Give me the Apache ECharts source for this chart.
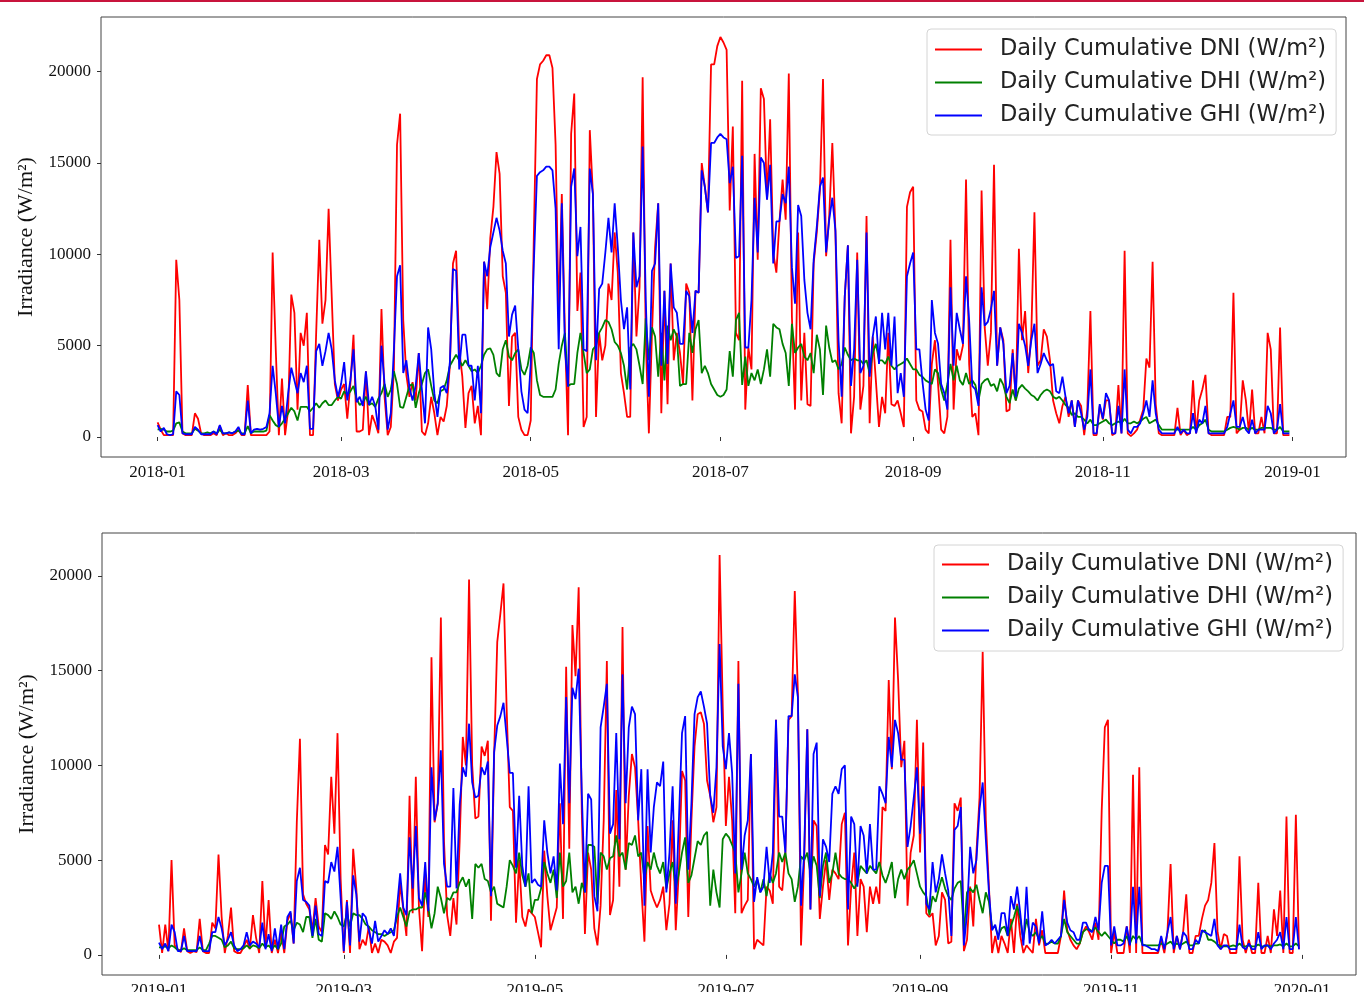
<!DOCTYPE html>
<html>
<head>
<meta charset="utf-8">
<title>Daily Cumulative Irradiance 2018–2019</title>
<script src="https://cdn.jsdelivr.net/npm/echarts@6/dist/echarts.min.js"></script>
<style>
  html, body { margin: 0; padding: 0; background: #ffffff; overflow: hidden; }
  #chart { width: 1364px; height: 992px; }
</style>
</head>
<body>
<div id="chart"></div>
<script>
// Series names (legend entries)
const NAMES = ['Daily Cumulative DNI (W/m²)', 'Daily Cumulative DHI (W/m²)', 'Daily Cumulative GHI (W/m²)'];

// Daily values, one per day starting on 1 January of each year (W/m²)
const DNI_2018 = [
  800,400,100,100,100,100,9700,7500,200,100,100,100,1300,1000,200,100,100,100,200,100,
  600,100,200,100,100,200,400,100,100,2850,100,100,100,100,100,100,300,10100,4800,100,
  3200,100,1500,7800,6800,1500,5700,5000,6800,100,100,5700,10800,6200,7500,12500,7700,2900,2000,2600,
  2900,1000,2900,5600,300,300,400,3600,100,1200,750,200,7000,2200,100,550,3700,16000,17700,6400,
  3400,2200,3000,2000,4600,300,100,750,2200,1300,100,1100,850,1700,3900,9500,10200,4800,3300,500,
  2400,2800,750,1700,100,9600,7000,10900,12600,15600,14400,8800,7900,1700,5500,5700,1100,400,100,100,
  900,11000,19600,20400,20600,20900,20900,20200,16000,6500,13300,5700,100,16600,18800,6900,9000,550,1100,16800,
  13300,1100,5700,4200,5000,8400,7500,11200,9000,3500,2400,1100,1100,11200,5500,8200,19700,5300,200,5700,
  10400,12800,1300,8000,1800,9500,4200,5700,4600,2900,8400,7900,2000,8000,7900,15000,13700,12300,20400,20400,
  21400,21900,21600,21200,12400,17000,5700,5300,19500,1500,4900,3700,15500,9700,19100,18500,13000,17400,10100,9000,
  11800,14100,11900,19900,6600,1500,11200,2000,5700,1800,1700,9500,11200,13500,19600,9900,12100,16100,11200,2400,
  750,7700,10500,200,2200,10100,1500,2800,12100,750,5500,3100,550,2200,1300,5700,1800,1700,2000,1300,
  550,12600,13400,13700,2000,1500,1400,400,200,4000,5300,2900,400,200,1100,10800,1500,4800,4200,5000,
  14100,4000,1100,1300,100,13500,6000,3900,5700,14900,3900,6000,5300,1400,1500,4800,2000,10300,5300,6900,
  3500,5700,12300,3900,4200,5900,5500,4200,2000,1300,750,1700,2200,1100,2000,550,2000,1700,100,1500,
  6900,100,100,1700,950,2000,2000,100,200,2850,200,10200,200,50,200,400,950,1500,4300,3800,
  9600,1800,200,100,100,100,100,100,1600,100,400,100,200,3100,200,2000,2600,3400,200,100,
  100,100,100,100,1100,1100,7900,200,400,3100,2000,200,2600,200,200,1100,200,5700,4800,200,
  200,6000,100,100,100
];
const DHI_2018 = [
  400,450,400,300,300,350,750,800,300,200,200,200,450,350,200,200,250,200,300,200,
  400,200,200,250,200,300,350,200,200,600,200,300,300,300,300,350,1200,900,650,550,
  750,1000,1300,1600,1400,900,1650,1650,1650,1400,1600,1850,1600,1850,2000,1750,1750,2000,2200,2100,
  2500,2300,2500,2800,2100,1750,1900,2200,1750,1850,1650,2100,2400,2900,2200,2600,3600,2900,1650,1600,
  2200,2800,2900,1600,2400,2900,3500,3700,2800,2000,1850,2500,2600,3100,3900,4200,4500,4200,3900,4200,
  3900,3600,3700,3500,3900,4500,4800,4850,4500,3500,3300,4800,5300,4400,4200,4600,4800,3700,3400,3900,
  4900,4600,3100,2300,2200,2200,2200,2200,2600,4000,5000,5700,2800,2900,2900,4600,5700,4600,3500,3700,
  4800,5000,5700,6000,6400,6300,5900,5200,5000,4600,3900,2600,4900,5100,4800,3900,2900,6500,4200,6000,
  5500,3300,5700,3100,6100,5300,5900,5500,2800,2900,2900,5700,4600,5900,6400,3500,3900,3500,2900,2600,
  2300,2200,2300,2600,4700,3300,6400,6800,2850,4400,2800,3500,3100,3700,2900,3700,4800,3300,6200,6000,
  5900,5100,4600,2800,6200,4600,4900,5100,4400,4200,4600,3500,5600,4800,2300,6100,4900,4100,4200,3700,
  4000,4900,4500,4200,4300,4200,4200,4000,4200,3500,4600,5100,4200,4200,4000,4400,3900,3700,3900,4000,
  4100,4300,4000,3700,3700,3400,3300,3100,3000,2900,3700,3500,2600,2000,2900,4000,3100,3900,3100,2850,
  3500,2900,3100,2850,2000,2900,3100,3200,2800,2900,2500,3200,2850,2200,1850,2600,2000,2650,2850,2650,
  2500,2300,2200,2000,2300,2500,2600,2500,2200,2100,2200,2000,1750,1600,1200,1300,1100,1100,950,750,
  950,650,650,750,850,950,750,650,750,850,750,1000,750,750,850,750,850,1000,1100,750,
  850,950,650,400,400,400,400,400,400,400,400,400,400,550,400,650,750,950,400,300,
  300,300,300,300,400,500,550,500,400,500,500,400,500,400,400,500,500,500,500,400,
  400,550,300,300,300
];
const GHI_2018 = [
  650,300,500,150,100,150,2500,2300,200,150,150,150,550,400,150,150,150,150,300,150,
  650,200,200,250,200,300,550,150,150,2000,200,400,450,400,450,550,1300,3900,2400,550,
  1700,750,2400,3800,3100,2400,3500,3000,3900,450,450,4700,5100,3900,4700,5700,4800,3100,2200,2900,
  4100,2000,3100,4800,1900,2200,1700,3600,1750,2200,1700,400,5000,2900,400,1300,4800,8800,9400,3500,
  4200,2700,2000,2800,4600,2600,750,6000,4800,2400,1100,2700,2800,2400,4100,9200,9100,3700,5600,5600,
  3900,3900,2000,3900,1300,9600,8800,10400,11200,12000,11300,10200,9500,5500,6700,7200,4800,2500,1500,1300,
  4000,9500,14300,14500,14600,14800,14800,14600,12500,4800,12800,4800,2750,13700,14700,9900,11500,4800,4700,14700,
  13300,4200,8100,8400,10100,12000,10100,12800,10400,7500,5900,7100,2600,11200,8200,8800,15900,7500,2200,9100,
  9500,12800,3900,8000,4000,9500,7100,6800,5100,5100,8000,7700,5700,8000,7900,14600,13700,12300,16100,16100,
  16400,16600,16400,16300,13900,14800,9800,9900,15400,4900,4900,7500,13100,10100,15300,15000,13000,14900,9500,11800,
  11800,13300,12800,14800,9300,7300,12700,12100,8600,6800,5900,9700,11500,13700,14200,10100,11900,13100,11300,5300,
  2200,7700,10500,2800,4800,9700,3500,3900,11200,3300,5500,6600,4000,6800,4800,6800,3900,6600,2400,3500,
  2200,8800,9500,10100,4800,4800,3000,1500,900,7500,5700,5100,2900,2400,1500,8200,3900,6800,5900,5100,
  8800,6400,2800,2600,1700,8200,6100,6300,7000,8000,3900,6000,5100,2400,2800,4600,2200,6200,5700,5000,
  3900,5300,6200,3500,4000,4600,4200,3900,4000,2500,2400,3300,2200,1300,2000,550,2000,1300,400,1100,
  3700,200,200,1800,1000,2400,2000,200,200,1700,200,3700,400,200,550,550,750,1300,2000,1100,
  3100,1300,400,200,200,200,200,200,550,200,400,200,200,1300,200,950,750,1700,200,200,
  200,200,200,200,550,1300,2000,550,550,1100,400,200,950,200,400,400,400,1700,1300,200,
  400,1800,200,200,200
];

const DNI_2019 = [
  1600,100,1600,200,5000,500,300,150,1400,200,100,200,150,1900,200,100,100,1700,1400,5300,
  2000,100,1000,2500,200,100,100,400,800,300,2100,900,100,3900,400,2900,100,800,100,1200,
  100,1800,2200,600,7000,11400,3200,2700,2400,1300,3000,1500,1200,5800,5300,9400,6400,11700,4000,100,
  2900,100,5600,3500,300,800,500,1500,100,600,100,800,700,500,100,700,900,3800,2400,1000,
  8400,2200,9400,2500,200,4200,2000,15700,7000,8000,17800,6000,2100,1000,3000,1600,6000,11500,10000,19800,
  10000,7200,7300,11000,10500,11300,1800,10500,16500,18000,19600,13000,7800,7600,1700,5000,2000,1500,2400,2200,
  2000,1200,400,5500,3100,1300,1900,2500,8000,1900,15200,5600,17400,14700,19400,7500,1100,5400,4500,1400,
  500,2600,7100,15500,2100,2900,8700,3600,17300,4500,8400,10600,9900,7100,3600,700,6800,3400,2900,2500,
  2900,3600,1300,2700,7100,1300,4500,9700,9200,2000,7100,11000,12700,12800,12200,9200,8400,7000,7800,21100,
  13100,6800,9400,7100,2200,15500,2200,2600,2900,10600,300,800,650,500,3600,3400,2700,12400,3600,3400,
  5400,12400,12600,19200,13800,500,4900,11900,2400,7100,6800,1900,3600,5000,2900,4500,4300,4000,6900,7500,
  500,3600,5400,1000,4000,3600,1200,3600,2700,3600,2700,7800,7600,14500,9800,17800,14500,9900,11300,2600,
  5400,6300,12400,5400,11200,2200,2000,2200,500,1000,3300,2900,600,700,8000,7600,8300,200,800,3600,
  1500,5400,8300,16000,7100,3600,100,1000,100,1000,600,100,1900,100,2700,1000,100,500,300,100,
  1900,500,1300,100,100,100,100,100,1000,3400,1300,800,500,300,600,1200,1500,1200,800,1700,
  800,7600,12000,12400,100,1200,100,100,100,1500,100,9500,100,9900,100,100,100,100,100,100,
  800,100,1200,4800,100,1000,300,1200,3200,100,100,1000,1000,1900,2600,2900,3800,5900,1200,300,
  1100,1000,100,100,100,5200,800,100,800,100,100,3800,100,100,1000,100,2400,1000,3400,100,
  7300,100,100,7400,300
];
const DHI_2019 = [
  400,400,450,350,500,400,250,250,350,250,250,250,250,400,250,250,600,1000,1000,900,
  800,400,500,700,350,300,300,350,500,350,500,450,350,600,400,500,300,500,300,600,
  1500,1600,1800,1300,1700,1600,1200,2000,2000,900,1900,800,700,2200,2100,1900,2300,2000,1600,1500,
  2200,1500,2200,2100,2100,1900,1600,1500,1300,1200,1100,1100,1000,1100,1200,1300,2000,2500,2000,1500,
  2300,2400,2400,2500,2500,3300,2500,1400,2200,3600,3000,2200,3000,2900,3300,3300,3800,4100,3600,4000,
  1900,4800,4600,4800,4000,3900,3300,3600,2700,2600,2500,3600,5000,4700,4300,5400,4200,3600,4300,2200,
  2900,2900,3500,4900,4300,3800,4500,3000,5400,3600,3900,5400,3300,3600,2700,3800,3300,5800,5800,5700,
  2700,5400,5200,4500,5100,5200,6300,5200,5400,4500,5900,5800,6300,5200,5400,4000,4900,4500,5400,4700,
  4300,4900,3500,4300,4900,3500,4300,5400,6200,3800,4200,5100,6000,5800,6300,6500,2600,4500,3300,2500,
  6100,6400,6200,5800,5400,3300,4300,5400,4300,4000,3600,4000,3300,4000,3100,4300,3800,4300,5400,4900,
  5400,4300,4000,2800,3600,5200,5000,5400,4300,5200,4700,3000,4700,5400,3800,4300,5400,4300,4100,4000,
  4000,3800,3500,3800,4700,4500,4300,4700,4500,4300,4900,4200,3800,4300,4900,3000,4000,4500,4000,4500,
  4700,5000,4300,3600,3300,3100,2100,3100,2800,3500,4100,3500,3100,2900,3500,3800,3900,1200,3300,3500,
  3300,3700,2900,2200,3300,2800,1400,1500,1000,1400,1500,1000,1500,2000,2600,1900,800,1900,1200,1000,
  1200,800,1000,600,600,700,600,600,1000,1900,1200,1000,800,600,600,1200,1350,1350,1250,1450,
  1200,1000,1200,1000,800,600,800,800,700,1000,600,1000,800,1000,550,500,500,500,500,500,
  600,500,600,700,500,600,500,600,700,500,500,600,600,1200,1300,800,800,700,550,450,
  450,450,450,500,450,600,450,450,500,450,450,550,450,450,500,450,500,500,550,450,
  600,450,450,600,450
];
const GHI_2019 = [
  650,300,600,200,1600,1200,200,200,1000,200,200,200,200,1000,200,200,200,1200,1200,2000,
  1400,500,800,1200,500,200,300,500,1200,500,700,600,400,1700,300,1100,200,1400,300,1600,
  300,2000,2300,600,3900,4600,2900,2800,2600,1000,2600,1100,1000,3900,3800,4900,4400,5700,3000,200,
  2800,500,4200,3200,700,2200,2000,1300,600,1800,700,1000,1300,1100,1400,1000,2500,4300,2500,2100,
  6200,3500,6800,3000,2600,4900,2300,9900,7100,8000,10800,4800,3600,3600,8800,3500,7900,9900,9400,12200,
  9100,8300,8400,9900,9500,10200,3100,10700,12100,12600,13300,11500,9600,9600,4600,8400,4700,3600,8900,3800,
  4000,3700,3600,7100,5400,4300,5200,3400,10100,6900,13600,8000,14100,13500,15100,8500,3300,8500,8200,3100,
  2300,12000,13100,14300,6400,6900,11700,6100,14800,8000,12000,13100,12700,7100,9800,2600,9800,5400,7800,9100,
  8900,10200,3300,5400,8900,2700,7100,11700,12600,4500,8000,12700,13600,13900,13100,12200,8400,7500,9900,16400,
  11000,9800,11700,9600,4300,14300,4500,6300,7100,10600,2800,4100,3300,3600,5700,3800,5400,12400,7300,7300,
  5400,12600,12600,14800,13600,2600,5400,11900,2400,10600,11200,3100,6100,5700,4900,8500,8900,8500,9800,10000,
  2400,7300,6900,3600,6800,6300,4300,6900,4500,4500,8900,8500,8000,11500,9900,12400,11700,10300,10300,5700,
  6800,8300,9900,6400,8900,2700,2400,4900,3300,4000,5300,4300,3400,1000,6600,6800,7800,500,2200,5700,
  4300,5000,7700,9100,6100,3300,1300,1600,800,2200,2200,1000,3100,2400,3600,2200,500,3600,600,1700,
  1500,600,2300,500,600,800,600,800,1000,2900,1700,1300,1200,800,800,1700,1700,1300,1200,2000,
  1300,3800,4700,4700,500,1500,500,500,600,1500,500,3600,600,3600,500,500,400,300,300,200,
  1000,300,1200,2000,300,1000,300,1200,1000,300,300,800,600,1300,1200,1100,1000,1900,500,300,
  500,500,300,300,300,1600,400,300,600,300,300,1200,300,500,500,300,600,800,1200,300,
  2000,300,300,2000,300
];

// Axis tick labels
const X_TICKS_2018 = ['2018-01', '2018-03', '2018-05', '2018-07', '2018-09', '2018-11', '2019-01'];
const X_TICKS_2019 = ['2019-01', '2019-03', '2019-05', '2019-07', '2019-09', '2019-11', '2020-01'];
const Y_TICKS = [0, 5000, 10000, 15000, 20000];

const DAY = 86400000;
const COLORS = ['#ff0000', '#008000', '#0000ff'];

function monthStamp(label) {
  const [y, m] = label.split('-').map(Number);
  return Date.UTC(y, m - 1, 1);
}
// Pair each daily value with its UTC timestamp
function daily(year, values) {
  const t0 = Date.UTC(year, 0, 1);
  return values.map((v, i) => [t0 + i * DAY, v]);
}
function fmtMonth(val) {
  const d = new Date(val);
  return d.getUTCFullYear() + '-' + String(d.getUTCMonth() + 1).padStart(2, '0');
}

const serif = '"Liberation Serif", "Times New Roman", "DejaVu Serif", serif';
const sans = '"DejaVu Sans", "Noto Sans", sans-serif';

// Date axis on a numeric scale (timestamps), with ticks on every second month start
function xAxisFor(year, ticks, gridIndex) {
  const pad = 18.2 * DAY;
  const vals = ticks.map(monthStamp);
  return {
    type: 'value',
    gridIndex: gridIndex,
    min: Date.UTC(year, 0, 1) - pad,
    max: Date.UTC(year, 11, 31) + pad,
    splitLine: { show: false },
    axisLine: { show: false },
    axisTick: { show: true, inside: false, length: 4, customValues: vals,
                lineStyle: { color: '#333', width: 1 } },
    axisLabel: { customValues: vals, formatter: fmtMonth, margin: 7,
                 fontFamily: serif, fontSize: 17, color: '#111' }
  };
}
function yAxisFor(min, max, gridIndex) {
  return {
    type: 'value',
    gridIndex: gridIndex,
    min: min,
    max: max,
    name: 'Irradiance (W/m²)',
    nameLocation: 'middle',
    nameGap: 51,
    nameRotate: 90,
    nameTextStyle: { fontFamily: serif, fontSize: 22, color: '#111' },
    splitLine: { show: false },
    axisLine: { show: false },
    axisTick: { show: true, inside: false, length: 4, customValues: Y_TICKS,
                lineStyle: { color: '#333', width: 1 } },
    axisLabel: { customValues: Y_TICKS, margin: 10, formatter: (v) => String(v),
                 fontFamily: serif, fontSize: 17, color: '#111' }
  };
}
function legendAt(left, top, padding) {
  return {
    data: NAMES,
    orient: 'vertical',
    left: left,
    top: top,
    icon: 'rect',
    itemWidth: 47,
    itemHeight: 2,
    itemGap: 10,
    padding: padding,
    backgroundColor: 'rgba(255,255,255,0.85)',
    borderColor: '#d4d4d4',
    borderWidth: 1,
    borderRadius: 4,
    selectedMode: false,
    textStyle: { fontFamily: sans, fontSize: 22.5, color: '#222',
                 lineHeight: 22, padding: [0, 0, 0, 13] }
  };
}
function lines(data, gridIndex) {
  return data.map((vals, k) => ({
    name: NAMES[k],
    type: 'line',
    xAxisIndex: gridIndex,
    yAxisIndex: gridIndex,
    data: vals,
    symbol: 'none',
    showSymbol: false,
    lineStyle: { color: COLORS[k], width: 1.8 },
    itemStyle: { color: COLORS[k] },
    z: 2 + k
  }));
}

const chart = echarts.init(document.getElementById('chart'), null, { renderer: 'canvas' });
chart.setOption({
  animation: false,
  backgroundColor: '#ffffff',
  grid: [
    { left: 101, top: 17, width: 1245, height: 440, show: true, outerBoundsMode: 'none',
      borderColor: '#444', borderWidth: 1, backgroundColor: 'transparent' },
    { left: 102, top: 533, width: 1254, height: 442, show: true, outerBoundsMode: 'none',
      borderColor: '#444', borderWidth: 1, backgroundColor: 'transparent' }
  ],
  xAxis: [ xAxisFor(2018, X_TICKS_2018, 0), xAxisFor(2019, X_TICKS_2019, 1) ],
  yAxis: [ yAxisFor(-1095, 22995, 0), yAxisFor(-1060, 22260, 1) ],
  legend: [ legendAt(927, 29, [9, 10, 8, 8]), legendAt(934, 545, [8, 10, 9, 8]) ],
  graphic: [
    { type: 'rect', left: 0, top: 0, shape: { width: 1364, height: 2 },
      style: { fill: '#c8143c' }, z: 10 }
  ],
  series: [
    ...lines([daily(2018, DNI_2018), daily(2018, DHI_2018), daily(2018, GHI_2018)], 0),
    ...lines([daily(2019, DNI_2019), daily(2019, DHI_2019), daily(2019, GHI_2019)], 1)
  ]
});
</script>
</body>
</html>
